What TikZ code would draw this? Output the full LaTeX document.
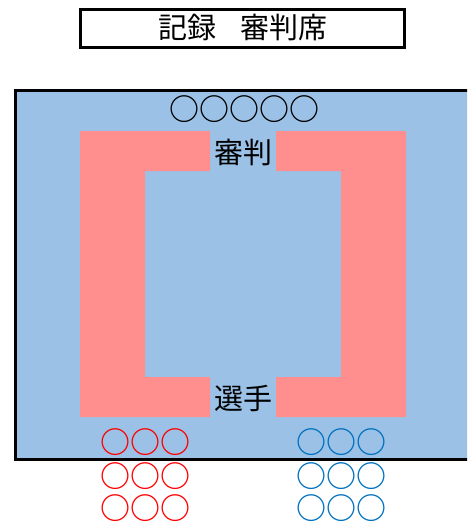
\documentclass[tikz,border=0pt]{standalone}
\usepackage{fontspec}
\newfontfamily\jp{Noto Sans CJK JP}
\newfontfamily\jpb{Noto Sans CJK JP Bold}
\definecolor{courtblue}{RGB}{155,194,230}
\definecolor{matpink}{RGB}{255,143,143}
\definecolor{redteam}{RGB}{255,0,0}
\definecolor{blueteam}{RGB}{0,112,192}
\begin{document}
\begin{tikzpicture}[x=1pt,y=-1pt,
  lbl/.style={inner sep=0pt,font=\jp\fontsize{29}{29}\selectfont},
  marks/.style={inner sep=0pt,font=\jpb\fontsize{30}{30}\selectfont}]
\useasboundingbox (0,0) rectangle (467,525);
\clip (0,0) rectangle (467,525);
% title box
\draw[line width=3pt,fill=white] (80.5,9) rectangle (404,47);
\node[lbl] (title) at (243,28) {記録\kern-0.15em　審判席};
% court
\draw[line width=3pt,fill=courtblue] (15,90.5) rectangle (480,459);
% pink brackets
\fill[matpink] (80,131) -- (210,131) -- (210,171) -- (145,171) -- (145,377)
  -- (210,377) -- (210,417) -- (80,417) -- cycle;
\fill[matpink] (406,131) -- (276,131) -- (276,171) -- (341,171) -- (341,377)
  -- (276,377) -- (276,417) -- (406,417) -- cycle;
\node[lbl] (judge) at (243,152) {審判};
\node[lbl] (player) at (243,398) {選手};
% circles
\node[marks] (top) at (244,109) {○○○○○};
\node[marks,text=redteam] (r1) at (145.5,442) {○○○};
\node[marks,text=redteam] (r2) at (145.5,476) {○○○};
\node[marks,text=redteam] (r3) at (145.5,508) {○○○};
\node[marks,text=blueteam] (b1) at (341.5,442) {○○○};
\node[marks,text=blueteam] (b2) at (341.5,476) {○○○};
\node[marks,text=blueteam] (b3) at (341.5,508) {○○○};
\end{tikzpicture}
\end{document}
